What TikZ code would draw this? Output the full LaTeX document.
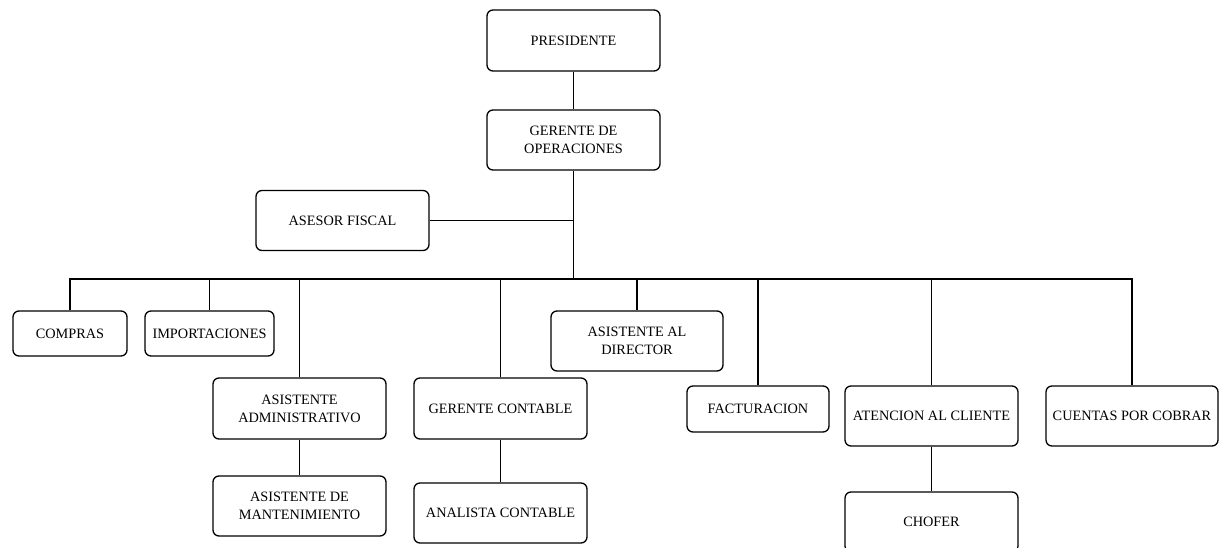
\documentclass[tikz,border=0pt]{standalone}
\usepackage{fontspec}
\setmainfont{Liberation Serif}
\begin{document}
\begin{tikzpicture}[x=1pt,y=-1pt,
  orgbox/.style={draw, rounded corners=6pt, line width=1.3pt, align=center,
    inner sep=0pt, font=\fontsize{14.3}{18}\selectfont, anchor=center},
  link/.style={line width=1.3pt}]
\clip (0,0) rectangle (1220,548);
\fill[white] (0,0) rectangle (1220,548);
\node[orgbox, minimum width=173pt, minimum height=61pt] (pres) at (573.5,40.5) {PRESIDENTE};
\node[orgbox, minimum width=173pt, minimum height=60pt] (ger) at (573.5,140) {GERENTE DE\\OPERACIONES};
\node[orgbox, minimum width=173pt, minimum height=60pt] (ases) at (342.5,220.5) {ASESOR FISCAL};
\node[orgbox, minimum width=114pt, minimum height=45pt] (comp) at (70,333.5) {COMPRAS};
\node[orgbox, minimum width=129pt, minimum height=45pt] (imp) at (209.5,333.5) {IMPORTACIONES};
\node[orgbox, minimum width=173pt, minimum height=61pt] (asad) at (299.5,408.5) {ASISTENTE\\ADMINISTRATIVO};
\node[orgbox, minimum width=173pt, minimum height=60pt] (asman) at (299.5,506) {ASISTENTE DE\\MANTENIMIENTO};
\node[orgbox, minimum width=173pt, minimum height=61pt] (gcont) at (500.5,408.5) {GERENTE CONTABLE};
\node[orgbox, minimum width=173pt, minimum height=60pt] (acont) at (500.5,513) {ANALISTA CONTABLE};
\node[orgbox, minimum width=172pt, minimum height=60pt] (asdir) at (637,341) {ASISTENTE AL\\DIRECTOR};
\node[orgbox, minimum width=142pt, minimum height=46pt] (fact) at (758,409) {FACTURACION};
\node[orgbox, minimum width=173pt, minimum height=60pt] (aten) at (931.5,416) {ATENCION AL CLIENTE};
\node[orgbox, minimum width=173pt, minimum height=60pt] (chof) at (931.5,522) {CHOFER};
\node[orgbox, minimum width=172pt, minimum height=60pt] (cxc) at (1132,416) {CUENTAS POR COBRAR};
\coordinate (bus) at (573.5,279);
\draw[link] (pres) -- (ger);
\draw[link] (ger) -- (bus);
\draw[link] (ases.east) -- (ases.east -| ger.south);
\draw[link] (comp.north) -- (comp.north |- bus) -- (cxc.north |- bus) -- (cxc.north);
\draw[link] (imp.north) -- (imp.north |- bus);
\draw[link] (asad.north) -- (asad.north |- bus);
\draw[link] (gcont.north) -- (gcont.north |- bus);
\draw[link] (asdir.north) -- (asdir.north |- bus);
\draw[link] (fact.north) -- (fact.north |- bus);
\draw[link] (aten.north) -- (aten.north |- bus);
\draw[link] (asad) -- (asman);
\draw[link] (gcont) -- (acont);
\draw[link] (aten) -- (chof);
\end{tikzpicture}
\end{document}
